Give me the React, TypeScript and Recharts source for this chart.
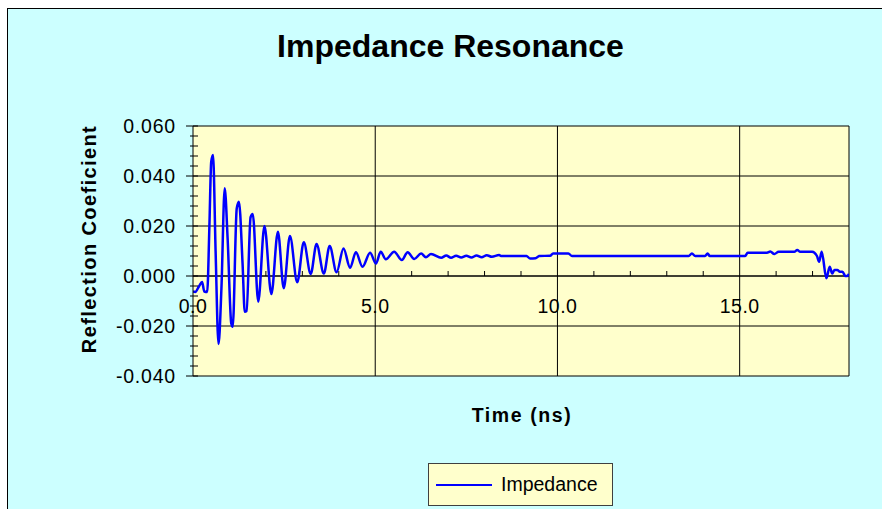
import { CartesianGrid, Legend, Line, LineChart, ReferenceDot, ReferenceLine, XAxis, YAxis } from 'recharts';

// time axis (ns) and reflection coefficient
const timeNs = [
  0.0, 0.06, 0.17, 0.25, 0.31, 0.39, 0.45, 0.5, 0.55, 0.62, 0.7, 0.78, 0.87, 0.95, 1.05, 1.09,
  1.2, 1.26, 1.36, 1.42, 1.47, 1.58, 1.64, 1.79, 1.96, 2.15, 2.33, 2.49, 2.66, 2.86, 3.04, 3.23,
  3.39, 3.59, 3.75, 3.94, 4.13, 4.31, 4.47, 4.65, 4.86, 5.02, 5.15, 5.29, 5.52, 5.73, 5.89, 6.07,
  6.26, 6.39, 6.53, 6.81, 6.95, 7.08, 7.22, 7.36, 7.5, 7.64, 7.78, 7.92, 8.06, 8.2, 8.4, 8.45,
  9.15, 9.25, 9.4, 9.5, 9.8, 9.88, 10.3, 10.4, 13.6, 13.69, 13.78, 14.05, 14.12, 14.18, 15.15, 15.22,
  15.75, 15.84, 15.95, 16.07, 16.5, 16.58, 16.66, 16.99, 17.12, 17.18, 17.25, 17.38, 17.47, 17.54, 17.6, 17.68,
  17.75, 17.82, 17.9, 17.95, 18.0,
];
const impedance = [
  -0.0062, -0.0064, -0.004, -0.0024, -0.0062, -0.0064, 0.02, 0.0457, 0.0484, 0.01, -0.0272, -0.005, 0.0351, 0.015, -0.019, -0.0203,
  0.027, 0.0297, 0.005, -0.0143, -0.014, 0.0235, 0.0248, -0.0103, 0.02, -0.0072, 0.0177, -0.0049, 0.016, -0.0025, 0.0135, 0.0008,
  0.0128, 0.001, 0.012, 0.0015, 0.011, 0.0033, 0.0095, 0.0037, 0.0093, 0.005, 0.0097, 0.0067, 0.0097, 0.0064, 0.0095, 0.0068,
  0.009, 0.0075, 0.0088, 0.0073, 0.0082, 0.0073, 0.0081, 0.0074, 0.0081, 0.0074, 0.0082, 0.0075, 0.0083, 0.0077, 0.0084, 0.008,
  0.008, 0.007, 0.0071, 0.008, 0.0081, 0.009, 0.009, 0.008, 0.008, 0.009, 0.008, 0.008, 0.009, 0.008, 0.008, 0.0093,
  0.0093, 0.0098, 0.0088, 0.0097, 0.0097, 0.0104, 0.0097, 0.0097, 0.008, 0.0057, 0.0097, -0.0009, 0.0037, 0.001, 0.0024, 0.0024,
  0.0017, 0.0017, 0.0, 0.0, 0.0008,
];

const xLabels = [0, 5, 10, 15];
const xMinorTicks = [1, 2, 3, 4, 6, 7, 8, 9, 11, 12, 13, 14, 16, 17];
const yMajor = [-0.04, -0.02, 0, 0.02, 0.04, 0.06];
const yTicks = [
  -0.04, -0.036, -0.032, -0.028, -0.024, -0.02, -0.016, -0.012, -0.008, -0.004, 0,
  0.004, 0.008, 0.012, 0.016, 0.02, 0.024, 0.028, 0.032, 0.036, 0.04, 0.044, 0.048, 0.052, 0.056, 0.06,
];

const data = timeNs.map((t, i) => ({ time: t, impedance: impedance[i] }));

const FONT = '"Liberation Sans", Arial, sans-serif';

function YTick({ x, y, payload }: any) {
  const major = yMajor.some((m) => Math.abs(m - payload.value) < 1e-9);
  return (
    <g>
      <line x1={major ? x - 7 : x - 3} x2={x + 5} y1={y} y2={y} stroke="#000" />
      {major && (
        <text x={x - 17} y={y + 7} textAnchor="end" fontSize={19.5} fontFamily={FONT} letterSpacing={0.8} fill="#000">
          {payload.value.toFixed(3)}
        </text>
      )}
    </g>
  );
}

function LegendBox() {
  return (
    <div style={{ width: 185, height: 43, boxSizing: 'border-box', border: '1px solid #404040', background: '#FFFFCC', display: 'flex', alignItems: 'center', fontFamily: FONT, fontSize: 19.5, color: '#000' }}>
      <svg width={64} height={10} style={{ marginLeft: 7 }}>
        <line x1={0} x2={56} y1={5} y2={5} stroke="#0000FF" strokeWidth={2} />
      </svg>
      <span style={{ marginLeft: 1 }}>Impedance</span>
    </div>
  );
}

export default function App() {
  return (
    <div style={{ position: 'fixed', left: 0, top: 0, width: 882, height: 509, background: '#fff', overflow: 'hidden' }}>
      <div style={{ position: 'absolute', left: 7, top: 8, width: 880, height: 510, background: '#CCFFFF', borderLeft: '1px solid #000', borderTop: '1px solid #000' }} />
      <div style={{ position: 'absolute', left: 0, top: 0 }}>
        <LineChart width={882} height={509} data={data} margin={{ top: 126, right: 33, bottom: 133, left: 93 }}>
          <CartesianGrid
            fill="#FFFFCC"
            stroke="#000"
            strokeOpacity={1}
            horizontalValues={yMajor}
            verticalValues={[5, 10, 15, 18]}
          />
          <XAxis dataKey="time" type="number" domain={[0, 18]} hide allowDataOverflow />
          <YAxis
            type="number"
            domain={[-0.04, 0.06]}
            ticks={yTicks}
            interval={0}
            width={100}
            tickSize={0}
            tickMargin={0}
            tickLine={false}
            axisLine={{ stroke: '#000' }}
            tick={<YTick />}
            allowDataOverflow
          />
          <ReferenceLine y={0} stroke="#000" ifOverflow="visible" />
          {xMinorTicks.map((t) => (
            <ReferenceLine key={'mt' + t} segment={[{ x: t, y: 0 }, { x: t, y: 0.002 }]} stroke="#000" />
          ))}
          {xLabels.map((t) => (
            <ReferenceDot
              key={'xl' + t}
              x={t}
              y={0}
              r={1}
              fill="none"
              stroke="none"
              label={{
                content: (p: any) => (
                  <text x={p.viewBox.x + 1} y={p.viewBox.y + 38} textAnchor="middle" fontSize={19.5} fontFamily={FONT} letterSpacing={0.5} fill="#000">
                    {t.toFixed(1)}
                  </text>
                ),
              }}
            />
          ))}
          <Line
            type="monotone"
            dataKey="impedance"
            name="Impedance"
            stroke="#0000FF"
            strokeWidth={2.5}
            dot={false}
            isAnimationActive={false}
          />
          <Legend
            layout="vertical"
            verticalAlign="middle"
            align="center"
            content={<LegendBox />}
            wrapperStyle={{ left: 428, top: 463, width: 185, height: 43 }}
          />
          <text x={450.5} y={57} textAnchor="middle" fontSize={32} fontWeight="bold" fontFamily={FONT} fill="#000">
            Impedance Resonance
          </text>
          <text transform="translate(96,239) rotate(-90)" textAnchor="middle" fontSize={20} fontWeight="bold" fontFamily={FONT} letterSpacing={1.4} fill="#000">
            Reflection Coeficient
          </text>
          <text x={522} y={422} textAnchor="middle" fontSize={19.5} fontWeight="bold" fontFamily={FONT} letterSpacing={1.6} fill="#000">
            Time (ns)
          </text>
        </LineChart>
      </div>
    </div>
  );
}
